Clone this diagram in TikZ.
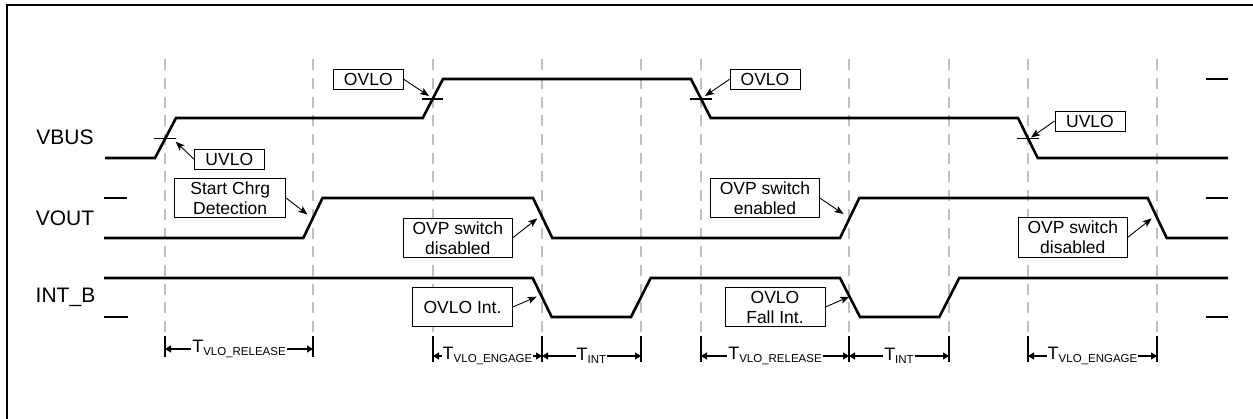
\documentclass[tikz,border=0pt]{standalone}
\usepackage{fontspec}
\setmainfont{Liberation Sans}
\usetikzlibrary{arrows.meta,calc}
\begin{document}
\begin{tikzpicture}[x=1pt,y=-1pt,
  sig/.style={line width=2.6pt, line join=miter, line cap=butt},
  lvlmark/.style={line width=2.6pt},
  thr/.style={line width=1.2pt},
  gridline/.style={draw=black!25, line width=2pt, dash pattern=on 11pt off 7.7pt},
  dimtick/.style={line width=1.2pt},
  lbl/.style={draw, line width=0.9pt, fill=white, font=\fontsize{17.5}{20}\selectfont, align=center, inner sep=0pt},
  sname/.style={font=\fontsize{21}{24}\selectfont},
  arr/.style={line width=0.9pt, -{Stealth[length=9pt,width=7pt,inset=2pt]}},
  dim/.style={line width=1.2pt, {Triangle[length=6pt,width=7pt]}-{Triangle[length=6pt,width=7pt]}},
  dimtxt/.style={fill=white, inner sep=1pt, font=\fontsize{18}{20}\selectfont},
]
\useasboundingbox (0,0) rectangle (1253,419);
% frame
\draw[line width=2.2pt] (7,419) -- (7,5) -- (1253,5);

% grid lines and ticks
\foreach \x in {165,313,433,542,641,701,849,949,1028,1157}{
  \draw[gridline] (\x,59.3) -- (\x,336.5);
}
\foreach \x in {165,313}{ \draw[dimtick] (\x,336.5) -- (\x,357); }
\foreach \x in {433,542,641,701,849,949,1028,1157}{ \draw[dimtick] (\x,336.5) -- (\x,362); }

% signal names
\node[sname] (nvbus) at (65,137) {VBUS};
\node[sname] (nvout) at (65,218) {VOUT};
\node[sname] (nint)  at (65.5,297) {INT\_B};

% signals
\draw[sig] (105,158) -- (155,158) -- (176,118) -- (422.7,118) -- (443,79) -- (691,79) -- (710.7,118) -- (1018,118) -- (1037.7,158) -- (1228,158);
\draw[sig] (104,238) -- (303.3,238) -- (322.5,198) -- (533,198) -- (552.3,238) -- (840,238) -- (859.3,198) -- (1147.7,198) -- (1166.7,238) -- (1228,238);
\draw[sig] (104,278) -- (532.7,278) -- (551.7,317) -- (631,317) -- (650.7,278) -- (840,278) -- (860,317) -- (939.3,317) -- (959.3,278) -- (1228,278);

% level marks
\draw[lvlmark] (104,198) -- (127,198);
\draw[lvlmark] (104,278) -- (127,278);
\draw[lvlmark] (104,317) -- (128,317);
\draw[lvlmark] (1206,79) -- (1228,79);
\draw[lvlmark] (1206,198) -- (1228,198);
\draw[lvlmark] (1206,317) -- (1228,317);

% threshold ticks
\draw[thr] (154,138.3) -- (175.5,138.3);
\draw[thr] (421.7,99) -- (443.3,99);
\draw[thr] (690,99) -- (711.7,99);
\draw[thr] (1017,138.3) -- (1039,138.3);

% callout boxes
\node[lbl, minimum width=70pt, minimum height=20pt] (ovloA) at (368.3,79.3) {OVLO};
\node[lbl, minimum width=70pt, minimum height=20pt] (ovloB) at (765,79.3) {OVLO};
\node[lbl, minimum width=70pt, minimum height=20pt] (uvloA) at (229.3,159) {UVLO};
\node[lbl, minimum width=70pt, minimum height=20pt] (uvloB) at (1090,121) {UVLO};
\node[lbl, minimum width=111pt, minimum height=39.4pt] (start) at (230.2,198) {Start Chrg\\Detection};
\node[lbl, minimum width=109pt, minimum height=39pt] (ovpA) at (457.8,237.8) {OVP switch\\disabled};
\node[lbl, minimum width=108.6pt, minimum height=39.4pt] (ovpE) at (765,198) {OVP switch\\enabled};
\node[lbl, minimum width=109pt, minimum height=40pt] (ovpB) at (1072.8,237.3) {OVP switch\\disabled};
\node[lbl, minimum width=99.6pt, minimum height=39.4pt] (ovloInt) at (462.5,307) {OVLO Int.};
\node[lbl, minimum width=100pt, minimum height=39.4pt] (ovloFall) at (775,307) {OVLO\\Fall Int.};

% arrow tips
\coordinate (tOvloA) at (429,96);
\coordinate (tOvloB) at (705,96);
\coordinate (tUvloA) at (175.7,141.7);
\coordinate (tUvloB) at (1031,137.5);
\coordinate (tStart) at (307.5,214.5);
\coordinate (tOvpA) at (537.3,218.5);
\coordinate (tOvpE) at (843.5,214);
\coordinate (tOvpB) at (1151.7,218.5);
\coordinate (tOvloInt) at (536.7,296.7);
\coordinate (tOvloFall) at (849.3,296.7);

\draw[arr] (ovloA.east) -- (tOvloA);
\draw[arr] (ovloB.west) -- (tOvloB);
\draw[arr] (uvloA.west) -- (tUvloA);
\draw[arr] (uvloB.west) -- (tUvloB);
\draw[arr] (start.east) -- (tStart);
\draw[arr] (ovpA.east) -- (tOvpA);
\draw[arr] (ovpE.east) -- (tOvpE);
\draw[arr] (ovpB.east) -- (tOvpB);
\draw[arr] (ovloInt.east) -- (tOvloInt);
\draw[arr] (ovloFall.east) -- (tOvloFall);

% dimension arrows
\newcommand{\tsub}[1]{T\raisebox{-3pt}{\fontsize{11.5}{12}\selectfont #1}}
\coordinate (d1a) at (165,349); \coordinate (d1b) at (313,349);
\coordinate (d2a) at (433,356); \coordinate (d2b) at (542,356);
\coordinate (d3a) at (542,356); \coordinate (d3b) at (641,356);
\coordinate (d4a) at (701,356); \coordinate (d4b) at (849,356);
\coordinate (d5a) at (849,356); \coordinate (d5b) at (949,356);
\coordinate (d6a) at (1028,356); \coordinate (d6b) at (1157,356);
\draw[dim] (d1a) -- (d1b); \node[dimtxt] (l1) at ($(d1a)!0.5!(d1b)$) {\tsub{VLO\_RELEASE}};
\draw[dim] (d2a) -- (d2b); \node[dimtxt] (l2) at ($(d2a)!0.5!(d2b)$) {\tsub{VLO\_ENGAGE}};
\draw[dim] (d3a) -- (d3b); \node[dimtxt] (l3) at ($(d3a)!0.5!(d3b)$) {\tsub{INT}};
\draw[dim] (d4a) -- (d4b); \node[dimtxt] (l4) at ($(d4a)!0.5!(d4b)$) {\tsub{VLO\_RELEASE}};
\draw[dim] (d5a) -- (d5b); \node[dimtxt] (l5) at ($(d5a)!0.5!(d5b)$) {\tsub{INT}};
\draw[dim] (d6a) -- (d6b); \node[dimtxt] (l6) at ($(d6a)!0.5!(d6b)$) {\tsub{VLO\_ENGAGE}};
\end{tikzpicture}
\end{document}
